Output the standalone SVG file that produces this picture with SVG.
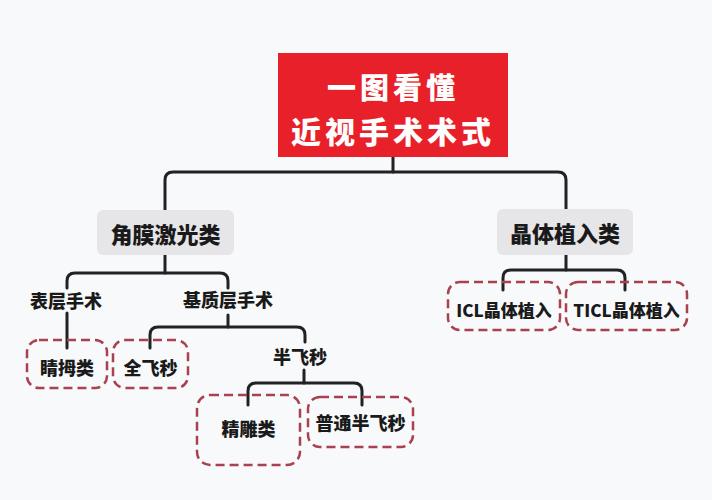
<svg xmlns="http://www.w3.org/2000/svg" width="712" height="500" viewBox="0 0 712 500">
<defs>
<style>
.t{font-family:"Noto Sans CJK SC","Noto Sans",sans-serif;font-weight:900;fill:#1a1a1a;text-anchor:middle;dominant-baseline:central}
.c{fill:none;stroke:#222;stroke-width:3;stroke-linejoin:round;stroke-linecap:round}
.d{fill:none;stroke:#a8424e;stroke-width:2.5;stroke-dasharray:9 5}
.g{fill:#e6e6e8}
</style>
</defs>
<rect width="712" height="500" fill="#f8f9fb"/>
<g id="connectors">
<path class="c" d="M393 157 V172"/>
<path class="c" d="M165 210 V180 Q165 172 173 172 H558 Q566 172 566 180 V209"/>
<path class="c" d="M165 255 V273"/>
<path class="c" d="M67 288 V281 Q67 273 75 273 H220 Q228 273 228 281 V288"/>
<path class="c" d="M67 313 V348"/>
<path class="c" d="M228 315 V327"/>
<path class="c" d="M150 348 V335 Q150 327 158 327 H297 Q305 327 305 335 V342"/>
<path class="c" d="M304 370 V383"/>
<path class="c" d="M248 405 V391 Q248 383 256 383 H354 Q362 383 362 391 V405"/>
<path class="c" d="M566 255 V270"/>
<path class="c" d="M503 290 V278 Q503 270 511 270 H617 Q625 270 625 278 V290"/>
</g>
<g id="root">
<rect x="278" y="53" width="230" height="104" fill="#e8202a"/>
<text class="t" x="393" y="86" font-size="29" style="fill:#fff" letter-spacing="4">一图看懂</text>
<text class="t" x="393" y="130" font-size="30" style="fill:#fff" letter-spacing="4">近视手术术式</text>
</g>
<g id="jiaomo">
<rect class="g" x="97" y="210" width="137" height="45" rx="6"/>
<text class="t" x="165.5" y="233" font-size="22">角膜激光类</text>
</g>
<g id="jingti">
<rect class="g" x="497" y="209" width="136" height="46" rx="6"/>
<text class="t" x="565" y="232" font-size="22">晶体植入类</text>
</g>
<g id="biaoceng">
<text class="t" x="66" y="300" font-size="18">表层手术</text>
</g>
<g id="jizhi">
<text class="t" x="228" y="299" font-size="18">基质层手术</text>
</g>
<g id="jingmu">
<rect class="d" x="27" y="340" width="80" height="48" rx="12"/>
<text class="t" x="67" y="367" font-size="18">睛拇类</text>
</g>
<g id="quanfeimiao">
<rect class="d" x="113" y="340" width="75" height="48" rx="12"/>
<text class="t" x="150.5" y="367" font-size="18">全飞秒</text>
</g>
<g id="banfeimiao">
<text class="t" x="300" y="356" font-size="18">半飞秒</text>
</g>
<g id="jingdiao">
<rect class="d" x="197" y="395" width="103" height="70" rx="13"/>
<text class="t" x="248.5" y="428" font-size="18">精雕类</text>
</g>
<g id="putong">
<rect class="d" x="308" y="397" width="105" height="50" rx="12"/>
<text class="t" x="360.5" y="422" font-size="18">普通半飞秒</text>
</g>
<g id="icl">
<rect class="d" x="448" y="282" width="112" height="48" rx="12"/>
<text class="t" x="504" y="309" font-size="17">ICL晶体植入</text>
</g>
<g id="ticl">
<rect class="d" x="566" y="282" width="121" height="48" rx="12"/>
<text class="t" x="626.5" y="309" font-size="17">TICL晶体植入</text>
</g>
</svg>
